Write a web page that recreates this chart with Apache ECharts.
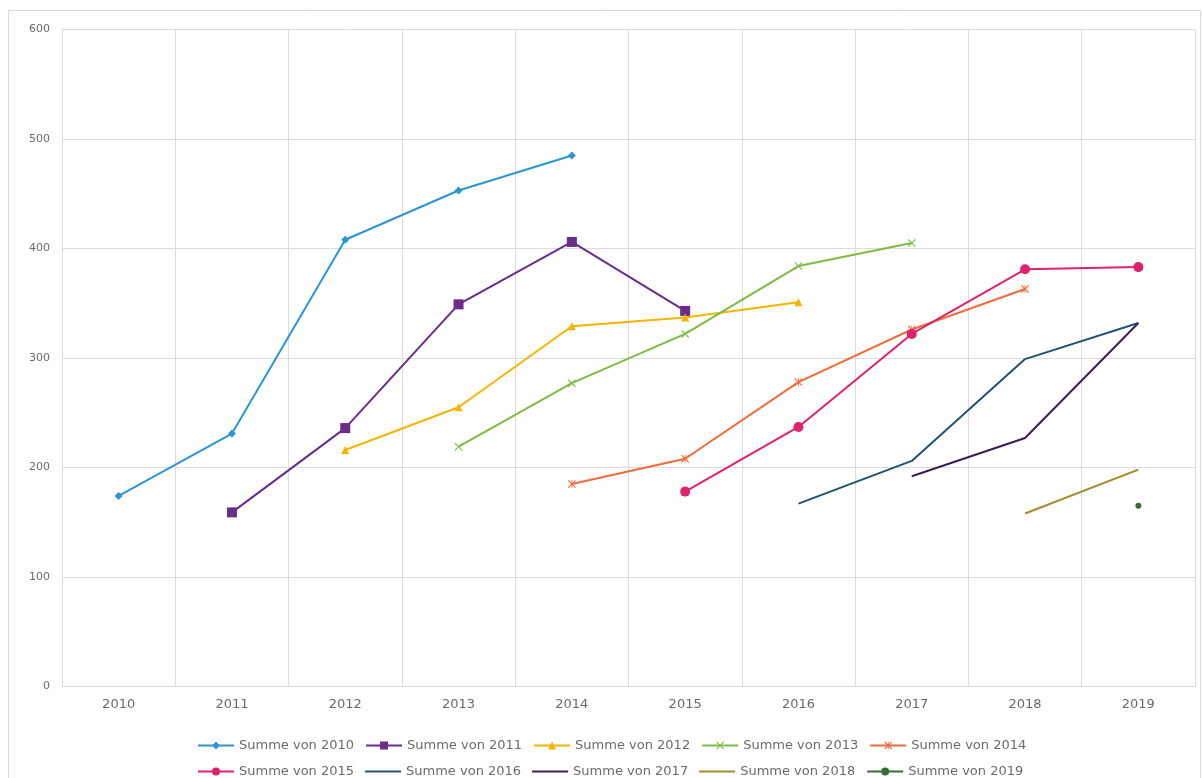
<!DOCTYPE html>
<html>
<head>
<meta charset="utf-8">
<script src="https://cdn.jsdelivr.net/npm/echarts@6/dist/echarts.min.js"></script>
<style>
html,body{margin:0;padding:0;background:#fff;}
#chart{width:1202px;height:778px;}
</style>
</head>
<body>
<div id="chart"></div>
<script>
const categories = ['2010','2011','2012','2013','2014','2015','2016','2017','2018','2019'];
const seriesNames = ['Summe von 2010','Summe von 2011','Summe von 2012','Summe von 2013','Summe von 2014',
  'Summe von 2015','Summe von 2016','Summe von 2017','Summe von 2018','Summe von 2019'];
const s2010 = [174, 231, 408, 453, 485, null, null, null, null, null];
const s2011 = [null, 159, 236, 349, 406, 343, null, null, null, null];
const s2012 = [null, null, 216, 255, 329, 337, 351, null, null, null];
const s2013 = [null, null, null, 219, 277, 322, 384, 405, null, null];
const s2014 = [null, null, null, null, 185, 208, 278, 326, 363, null];
const s2015 = [null, null, null, null, null, 178, 237, 322, 381, 383];
const s2016 = [null, null, null, null, null, null, 167, 206, 299, 332];
const s2017 = [null, null, null, null, null, null, null, 192, 227, 332];
const s2018 = [null, null, null, null, null, null, null, null, 158, 198];
const s2019 = [null, null, null, null, null, null, null, null, null, 165];
const yTicks = [0, 100, 200, 300, 400, 500, 600];

const colors = ['#2B96D4','#6B2C8C','#F4B400','#7DBB42','#F26B3A','#E0226E','#1F5373','#3B1E54','#A68B2C','#3A6B35'];
const xPath = 'path://M0,1L1,0L5,4L9,0L10,1L6,5L10,9L9,10L5,6L1,10L0,9L4,5Z';
const starPath = 'path://M0,1L1,0L4.5,3.5V0H5.5V3.5L9,0L10,1L6,5L10,9L9,10L5.5,6.5V10H4.5V6.5L1,10L0,9L4,5Z';
const lineIcon = 'path://M0,0L0,0ZM0,4H36V6H0ZM36,10L36,10Z';
const symbols = ['diamond','rect','triangle',xPath,starPath,'circle','none','none','none','circle'];
const symbolSizes = [8,10,8,8,8,10,0,0,0,6];
const dataArr = [s2010,s2011,s2012,s2013,s2014,s2015,s2016,s2017,s2018,s2019];

const series = dataArr.map((d, i) => ({
  name: seriesNames[i],
  type: 'line',
  data: d,
  symbol: symbols[i],
  symbolSize: symbolSizes[i],
  showSymbol: symbols[i] !== 'none',
  itemStyle: { color: colors[i] },
  lineStyle: { color: colors[i], width: 2 },
  emphasis: { disabled: true },
  animation: false
}));

const legendData = seriesNames.map((n, i) => symbols[i] === 'none' ? { name: n, icon: lineIcon } : { name: n });

const textStyle = { fontFamily: 'DejaVu Sans', color: '#6a6a6a' };
const chart = echarts.init(document.getElementById('chart'));
chart.setOption({
  backgroundColor: '#fff',
  animation: false,
  color: colors,
  graphic: [{
    type: 'rect', shape: { x: 8.5, y: 10.5, width: 1192, height: 800 },
    style: { fill: 'none', stroke: '#d9d9d9', lineWidth: 1 }, silent: true, z: -10
  }],
  grid: { left: 62, right: 7, top: 29.5, bottom: 91.5, containLabel: false },
  legend: [
    { data: legendData.slice(0,5), top: 734, left: 192, itemGap: 11, itemWidth: 36, itemHeight: 10,
      textStyle: Object.assign({ fontSize: 13 }, textStyle) },
    { data: legendData.slice(5), top: 760, left: 192, itemGap: 11, itemWidth: 36, itemHeight: 10,
      textStyle: Object.assign({ fontSize: 13 }, textStyle) }
  ],
  xAxis: {
    type: 'category',
    data: categories,
    boundaryGap: true,
    axisLine: { show: true, lineStyle: { color: '#d9d9d9', width: 1 } },
    axisTick: { show: false },
    axisLabel: Object.assign({ fontSize: 13, margin: 12 }, textStyle),
    splitLine: { show: true, lineStyle: { color: '#dcdcdc', width: 1 } }
  },
  yAxis: {
    type: 'value',
    min: yTicks[0],
    max: yTicks[yTicks.length - 1],
    interval: 100,
    axisLine: { show: false },
    axisTick: { show: false },
    axisLabel: Object.assign({ fontSize: 11, margin: 12 }, textStyle),
    splitLine: { show: true, lineStyle: { color: '#dcdcdc', width: 1 } }
  },
  series: series
});
</script>
</body>
</html>
